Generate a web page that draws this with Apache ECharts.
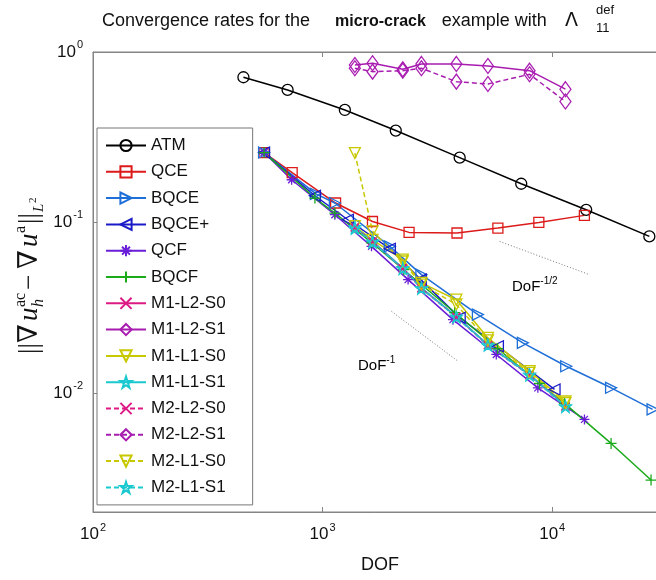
<!DOCTYPE html>
<html>
<head>
<meta charset="utf-8">
<script src="https://cdn.jsdelivr.net/npm/echarts@6/dist/echarts.min.js"></script>
<style>
  html, body { margin: 0; padding: 0; background: #fff; }
  #chart { width: 656px; height: 580px; }
</style>
</head>
<body>
<div id="chart"></div>
<script>
  // values (DOF, error)
  var atmDof = [452, 704, 1250, 2083, 3954, 7330, 14060, 26490];
  var atmErr = [0.711, 0.599, 0.457, 0.346, 0.240, 0.1686, 0.1186, 0.0828];
  var qceDof = [556, 737, 1139, 1649, 2380, 3849, 5800, 8746, 13810];
  var qceErr = [0.257, 0.196, 0.130, 0.1013, 0.0874, 0.0867, 0.0927, 0.100, 0.110];
  var bqceDof = [556, 935, 1131, 1962, 2694, 4748, 7450, 11510, 18050, 27370];
  var bqceErr = [0.257, 0.147, 0.130, 0.0724, 0.0494, 0.0288, 0.01965, 0.01433, 0.01071, 0.0080];
  var bqcePlusDof = [556, 926, 1288, 1962, 2676, 3954, 5800, 10235];
  var bqcePlusErr = [0.257, 0.1434, 0.1037, 0.0701, 0.0462, 0.0276, 0.01877, 0.01047];
  var qcfDof = [556, 733, 1131, 1633, 2357, 3697, 5708, 8659, 13820];
  var qcfErr = [0.257, 0.178, 0.111, 0.0724, 0.0462, 0.0269, 0.0168, 0.0107, 0.00699];
  var bqcfDof = [556, 926, 1131, 1638, 2257, 3760, 5784, 8806, 11310, 18050, 26950];
  var bqcfErr = [0.257, 0.139, 0.1135, 0.0760, 0.0528, 0.0296, 0.0182, 0.01135, 0.00867, 0.00505, 0.00308];
  // the M-methods share one set of DOF
  var mDof = [1382, 1650, 2235, 2694, 3824, 5248, 7968, 11420];
  var m1l2s0Err = [0.094, 0.0775, 0.0538, 0.0412, 0.0280, 0.0191, 0.0128, 0.0084];
  var m1l2s1Err = [0.839, 0.859, 0.792, 0.851, 0.851, 0.828, 0.777, 0.605];
  var m1l1s0Err = [0.095, 0.079, 0.0605, 0.0442, 0.0352, 0.0210, 0.0134, 0.0089];
  var m1l1s1Err = [0.094, 0.0774, 0.054, 0.0413, 0.0281, 0.0192, 0.01282, 0.00836];
  var m2l2s0Err = [0.093, 0.0770, 0.0535, 0.0410, 0.0279, 0.0190, 0.0127, 0.0083];
  var m2l2s1Err = [0.803, 0.767, 0.777, 0.803, 0.670, 0.649, 0.740, 0.512];
  var m2l1s0Err = [0.255, 0.0886, 0.059, 0.0432, 0.0330, 0.0203, 0.0131, 0.0087];
  var m2l1s1Err = [0.092, 0.0765, 0.0535, 0.0410, 0.0278, 0.0190, 0.0127, 0.0083];
  // guide slopes
  var halfDof = [5902, 14520];
  var halfErr = [0.0774, 0.0494];
  var oneDof = [1995, 3887];
  var oneErr = [0.0301, 0.01534];

  var names = ['ATM', 'QCE', 'BQCE', 'BQCE+', 'QCF', 'BQCF', 'M1-L2-S0', 'M1-L2-S1',
    'M1-L1-S0', 'M1-L1-S1', 'M2-L2-S0', 'M2-L2-S1', 'M2-L1-S0', 'M2-L1-S1'];

  var FONT = 'Liberation Sans';
  var AXIS_GRAY = '#858585';

  // marker shapes (matlab style)
  var triRight = 'path://M0 0 L10 5 L0 10 Z';
  var triLeft = 'path://M10 0 L0 5 L10 10 Z';
  var triDown = 'path://M0 0 L10 0 L5 10 Z';
  var asterisk = 'path://M0 -10 L0 10 M-10 0 L10 0 M-7 -7 L7 7 M-7 7 L7 -7';
  var plus = 'path://M0 -10 L0 10 M-10 0 L10 0';
  var cross = 'path://M-10 -10 L10 10 M-10 10 L10 -10';
  var star = 'path://M0 -10 L2.245 -3.09 L9.511 -3.09 L3.633 1.18 L5.878 8.09 L0 3.82 L-5.878 8.09 L-3.633 1.18 L-9.511 -3.09 L-2.245 -3.09 Z';

  function pairs(xs, ys) {
    return xs.map(function (x, i) { return [x, ys[i]]; });
  }

  function line(name, xs, ys, color, symbol, size, dashed) {
    return {
      name: name,
      type: 'line',
      data: pairs(xs, ys),
      symbol: symbol,
      symbolSize: size,
      lineStyle: { color: color, width: 1.5, type: dashed ? [5, 3] : 'solid' },
      itemStyle: { color: 'rgba(255,255,255,0)', borderColor: color, borderWidth: 1.3 },
      emphasis: { disabled: true },
      silent: true
    };
  }

  function guide(xs, ys) {
    return {
      type: 'line',
      data: pairs(xs, ys),
      symbol: 'none',
      lineStyle: { color: '#777', width: 1, type: [1, 2] },
      silent: true
    };
  }

  function powLabel(v) {
    var e = Math.log10(v);
    var r = Math.round(e);
    if (Math.abs(e - r) > 1e-6) return '';
    return '{b|10}{s|' + r + '}';
  }
  var labelRich = {
    b: { fontFamily: FONT, fontSize: 17, color: '#111' },
    s: { fontFamily: FONT, fontSize: 11, color: '#111', padding: [0, 0, 14, 1] }
  };

  var series = [
    line('ATM', atmDof, atmErr, '#000000', 'circle', 11, false),
    line('QCE', qceDof, qceErr, '#dd1a1a', 'rect', 10, false),
    line('BQCE', bqceDof, bqceErr, '#1f6fd8', triRight, 11, false),
    line('BQCE+', bqcePlusDof, bqcePlusErr, '#1a1ac8', triLeft, 11, false),
    line('QCF', qcfDof, qcfErr, '#6a1ed8', asterisk, 10, false),
    line('BQCF', bqcfDof, bqcfErr, '#1aaa1a', plus, 11, false),
    line('M1-L2-S0', mDof, m1l2s0Err, '#dd1a84', cross, 8, false),
    line('M1-L2-S1', mDof, m1l2s1Err, '#a81cb0', 'diamond', [11, 15], false),
    line('M1-L1-S0', mDof, m1l1s0Err, '#c8c800', triDown, 11, false),
    line('M1-L1-S1', mDof, m1l1s1Err, '#1ac8d0', star, 11, false),
    line('M2-L2-S0', mDof, m2l2s0Err, '#dd1a84', cross, 8, true),
    line('M2-L2-S1', mDof, m2l2s1Err, '#a81cb0', 'diamond', [11, 15], true),
    line('M2-L1-S0', mDof, m2l1s0Err, '#c8c800', triDown, 11, true),
    line('M2-L1-S1', mDof, m2l1s1Err, '#1ac8d0', star, 11, true),
    guide(halfDof, halfErr),
    guide(oneDof, oneErr)
  ];

  var option = {
    animation: false,
    backgroundColor: '#fff',
    title: {
      left: 97,
      top: 7,
      text: '{a|Convergence rates for the}{b|micro-crack}{a|example with}{l|Λ}',
      textStyle: {
        fontWeight: 'normal',
        rich: {
          a: { fontFamily: FONT, fontSize: 18, fontWeight: 'normal', color: '#111' },
          b: { fontFamily: FONT, fontSize: 16, fontWeight: 'bold', color: '#111', padding: [0, 16, 0, 25] },
          l: { fontFamily: 'DejaVu Sans', fontSize: 19, fontWeight: 'normal', color: '#111', padding: [0, 0, 0, 18] }
        }
      }
    },
    grid: {
      left: 93, top: 52, width: 574, bottom: 68,
      outerBoundsMode: 'none',
      containLabel: false,
      show: true, borderColor: AXIS_GRAY, borderWidth: 1
    },
    legend: {
      orient: 'vertical',
      left: 97,
      top: 128,
      data: names,
      itemWidth: 40,
      itemHeight: 14,
      itemGap: 9.3,
      padding: [9, 27, 9, 8],
      borderColor: '#777',
      borderWidth: 1,
      backgroundColor: '#fff',
      selectedMode: false,
      textStyle: { fontFamily: FONT, fontSize: 17, color: '#111', lineHeight: 16 }
    },
    xAxis: [{
      type: 'log',
      logBase: 10,
      min: 100,
      max: Math.pow(10, 4.5),
      name: 'DOF',
      nameLocation: 'middle',
      nameGap: 44,
      nameTextStyle: { fontFamily: FONT, fontSize: 18, color: '#111' },
      axisLine: { lineStyle: { color: AXIS_GRAY } },
      axisTick: { inside: true, length: 5, lineStyle: { color: AXIS_GRAY } },
      minorTick: { show: false },
      splitLine: { show: false },
      axisLabel: { formatter: powLabel, rich: labelRich, margin: 10 }
    }, {
      type: 'log',
      logBase: 10,
      min: 100,
      max: Math.pow(10, 4.5),
      position: 'top',
      axisLine: { lineStyle: { color: AXIS_GRAY } },
      axisTick: { inside: true, length: 5, lineStyle: { color: AXIS_GRAY } },
      splitLine: { show: false },
      axisLabel: { show: false }
    }],
    yAxis: {
      type: 'log',
      logBase: 10,
      min: 0.002,
      max: 1,
      axisLine: { lineStyle: { color: AXIS_GRAY } },
      axisTick: { inside: true, length: 5, lineStyle: { color: AXIS_GRAY } },
      splitLine: { show: false },
      axisLabel: { formatter: powLabel, rich: labelRich, margin: 10 }
    },
    graphic: [
      { type: 'text', x: 596, y: 4, style: { text: 'def', font: '13px "Liberation Sans"', fill: '#111' } },
      { type: 'text', x: 596, y: 22, style: { text: '11', font: '13px "Liberation Sans"', fill: '#111' } },
      {
        type: 'text', x: 512, y: 276,
        style: {
          text: '{a|DoF}{s|-1/2}',
          rich: {
            a: { fontFamily: FONT, fontSize: 15, color: '#111' },
            s: { fontFamily: FONT, fontSize: 10, color: '#111', padding: [0, 0, 12, 0] }
          }
        }
      },
      {
        type: 'text', x: 358, y: 355,
        style: {
          text: '{a|DoF}{s|-1}',
          rich: {
            a: { fontFamily: FONT, fontSize: 15, color: '#111' },
            s: { fontFamily: FONT, fontSize: 10, color: '#111', padding: [0, 0, 12, 0] }
          }
        }
      },
      {
        // y-axis label, reads bottom to top
        type: 'group', x: 30, y: 354, rotation: Math.PI / 2,
        children: [
          { type: 'text', x: 0, y: 0, style: { text: '||', font: '27px "Liberation Serif"', fill: '#111', verticalAlign: 'middle' } },
          { type: 'text', x: 11, y: 0, style: { text: '∇', font: '27px "DejaVu Serif"', fill: '#111', verticalAlign: 'middle' } },
          { type: 'text', x: 33, y: 0, style: { text: 'u', font: 'italic 27px "Liberation Serif"', fill: '#111', verticalAlign: 'middle' } },
          { type: 'text', x: 47, y: -9, style: { text: 'ac', font: '16px "Liberation Serif"', fill: '#111', verticalAlign: 'middle' } },
          { type: 'text', x: 47, y: 9, style: { text: 'h', font: 'italic 16px "Liberation Serif"', fill: '#111', verticalAlign: 'middle' } },
          { type: 'text', x: 64, y: 0, style: { text: '−', font: '27px "Liberation Serif"', fill: '#111', verticalAlign: 'middle' } },
          { type: 'text', x: 85, y: 0, style: { text: '∇', font: '27px "DejaVu Serif"', fill: '#111', verticalAlign: 'middle' } },
          { type: 'text', x: 107, y: 0, style: { text: 'u', font: 'italic 27px "Liberation Serif"', fill: '#111', verticalAlign: 'middle' } },
          { type: 'text', x: 121, y: -9, style: { text: 'a', font: '16px "Liberation Serif"', fill: '#111', verticalAlign: 'middle' } },
          { type: 'text', x: 130, y: 0, style: { text: '||', font: '27px "Liberation Serif"', fill: '#111', verticalAlign: 'middle' } },
          { type: 'text', x: 142, y: 9, style: { text: 'L', font: 'italic 15px "Liberation Serif"', fill: '#111', verticalAlign: 'middle' } },
          { type: 'text', x: 151, y: 3, style: { text: '2', font: '11px "Liberation Serif"', fill: '#111', verticalAlign: 'middle' } }
        ]
      }
    ],
    series: series
  };

  var chart = echarts.init(document.getElementById('chart'));
  chart.setOption(option);
</script>
</body>
</html>
